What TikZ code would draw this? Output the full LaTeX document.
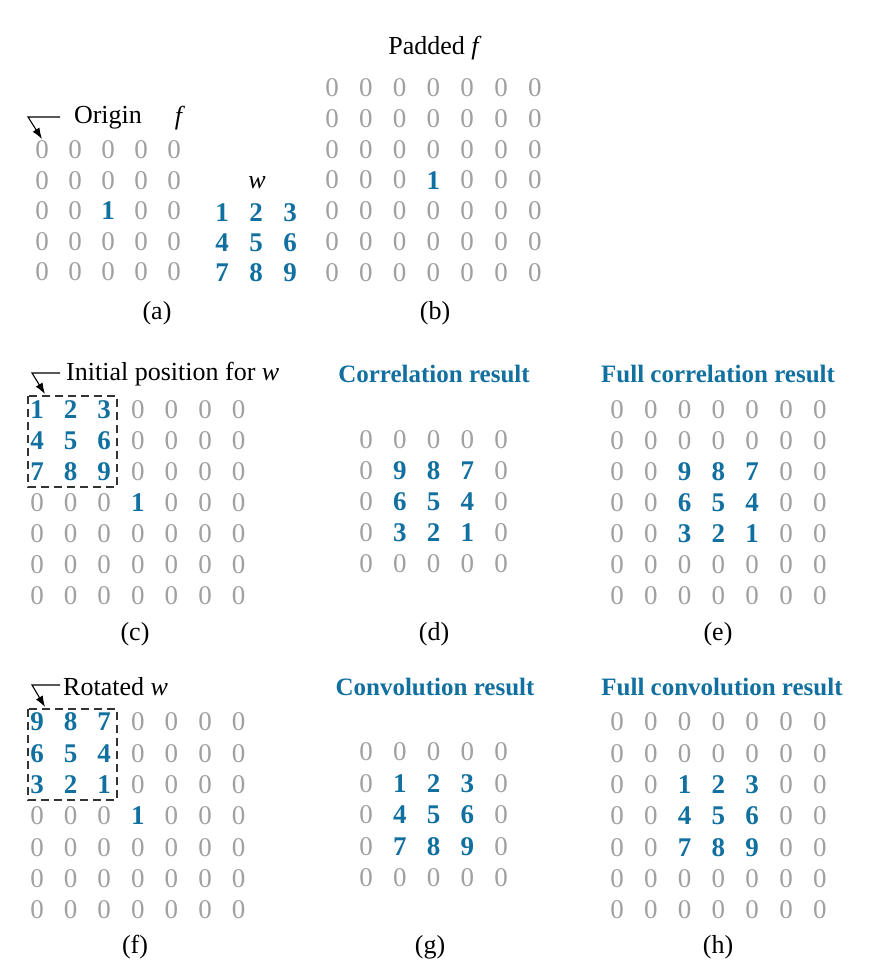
\documentclass[tikz,border=0pt]{standalone}
\usepackage{fontspec}
\setmainfont{Liberation Serif}
\usetikzlibrary{arrows.meta}
\definecolor{wblue}{HTML}{11709F}
\definecolor{zgray}{HTML}{A0A0A0}
\newcommand\mygrid[6]{%
  \foreach \rr [count=\i] in {#6} {
    \foreach \v [count=\j] in \rr {
      \ifnum\v=0
        \node[zero] (#1-\i-\j) at ({#2+(\j-1)*#4},{#3+(\i-1)*#5}) {0};
      \else
        \node[val] (#1-\i-\j) at ({#2+(\j-1)*#4},{#3+(\i-1)*#5}) {\v};
      \fi
    }
  }
}
\begin{document}
\begin{tikzpicture}[x=1pt,y=-1pt,
  zero/.style={text=zgray,font=\fontsize{27}{30}\selectfont,inner sep=0pt},
  val/.style={text=wblue,font=\fontsize{27}{30}\selectfont\bfseries,inner sep=0pt},
  lbl/.style={text=black,font=\fontsize{26}{30}\selectfont,inner sep=0pt},
  ttl/.style={text=wblue,font=\fontsize{25}{30}\selectfont\bfseries,inner sep=0pt},
  ptr/.style={line width=1.1pt,-{Latex[length=11pt,width=8pt,fill=black]}},
  win/.style={draw=black!80,line width=1.4pt,dash pattern=on 8pt off 5pt}]
\useasboundingbox (0,0) rectangle (878,974);

% (a)
\node[lbl] (origin) at (108,118) {Origin};
\node[lbl] (fa) at (180,118) {\textit{f}};
\coordinate (oa1) at (60,117);
\coordinate (oa2) at (28,117);
\coordinate (oa3) at (42,139);
\draw[ptr] (oa1) -- (oa2) -- (oa3);
\mygrid{a}{42}{150}{33}{30.5}{{0,0,0,0,0},{0,0,0,0,0},{0,0,1,0,0},{0,0,0,0,0},{0,0,0,0,0}}
\node[lbl] (wl) at (257,183) {\textit{w}};
\mygrid{w}{222}{213}{34}{30}{{1,2,3},{4,5,6},{7,8,9}}
\node[lbl] (la) at (157,313) {(a)};

% (b)
\node[lbl] (padded) at (435,48) {Padded \textit{f}};
\mygrid{b}{332}{88}{33.8}{30.7}{{0,0,0,0,0,0,0},{0,0,0,0,0,0,0},{0,0,0,0,0,0,0},{0,0,0,1,0,0,0},{0,0,0,0,0,0,0},{0,0,0,0,0,0,0},{0,0,0,0,0,0,0}}
\node[lbl] (lb) at (435,313) {(b)};

% (c)
\node[lbl,anchor=west] (init) at (66,374) {Initial position for \textit{w}};
\coordinate (ca1) at (60,373);
\coordinate (ca2) at (32,373);
\coordinate (ca3) at (45,394);
\draw[ptr] (ca1) -- (ca2) -- (ca3);
\mygrid{c}{37}{410}{33.6}{31}{{1,2,3,0,0,0,0},{4,5,6,0,0,0,0},{7,8,9,0,0,0,0},{0,0,0,1,0,0,0},{0,0,0,0,0,0,0},{0,0,0,0,0,0,0},{0,0,0,0,0,0,0}}
\coordinate (cb1) at (28,396);
\coordinate (cb2) at (117,487);
\draw[win] (cb1) rectangle (cb2);
\node[lbl] (lc) at (135,634) {(c)};

% (d)
\node[ttl] (corr) at (434,374) {Correlation result};
\mygrid{d}{366}{440}{33.8}{31}{{0,0,0,0,0},{0,9,8,7,0},{0,6,5,4,0},{0,3,2,1,0},{0,0,0,0,0}}
\node[lbl] (ld) at (434,634) {(d)};

% (e)
\node[ttl] (fcorr) at (718,374) {Full correlation result};
\mygrid{e}{617}{410}{33.8}{31}{{0,0,0,0,0,0,0},{0,0,0,0,0,0,0},{0,0,9,8,7,0,0},{0,0,6,5,4,0,0},{0,0,3,2,1,0,0},{0,0,0,0,0,0,0},{0,0,0,0,0,0,0}}
\node[lbl] (le) at (718,634) {(e)};

% (f)
\node[lbl,anchor=west] (rot) at (63,687) {Rotated \textit{w}};
\coordinate (fa1) at (60,685);
\coordinate (fa2) at (32,685);
\coordinate (fa3) at (45,707);
\draw[ptr] (fa1) -- (fa2) -- (fa3);
\mygrid{f}{37}{722}{33.6}{31.3}{{9,8,7,0,0,0,0},{6,5,4,0,0,0,0},{3,2,1,0,0,0,0},{0,0,0,1,0,0,0},{0,0,0,0,0,0,0},{0,0,0,0,0,0,0},{0,0,0,0,0,0,0}}
\coordinate (fb1) at (28,709);
\coordinate (fb2) at (117,800);
\draw[win] (fb1) rectangle (fb2);
\node[lbl] (lf) at (135,947) {(f)};

% (g)
\node[ttl] (conv) at (435,687) {Convolution result};
\mygrid{g}{366}{752}{33.8}{31.5}{{0,0,0,0,0},{0,1,2,3,0},{0,4,5,6,0},{0,7,8,9,0},{0,0,0,0,0}}
\node[lbl] (lg) at (430,947) {(g)};

% (h)
\node[ttl] (fconv) at (722,687) {Full convolution result};
\mygrid{h}{617}{722}{33.8}{31.3}{{0,0,0,0,0,0,0},{0,0,0,0,0,0,0},{0,0,1,2,3,0,0},{0,0,4,5,6,0,0},{0,0,7,8,9,0,0},{0,0,0,0,0,0,0},{0,0,0,0,0,0,0}}
\node[lbl] (lh) at (718,947) {(h)};
\end{tikzpicture}
\end{document}
